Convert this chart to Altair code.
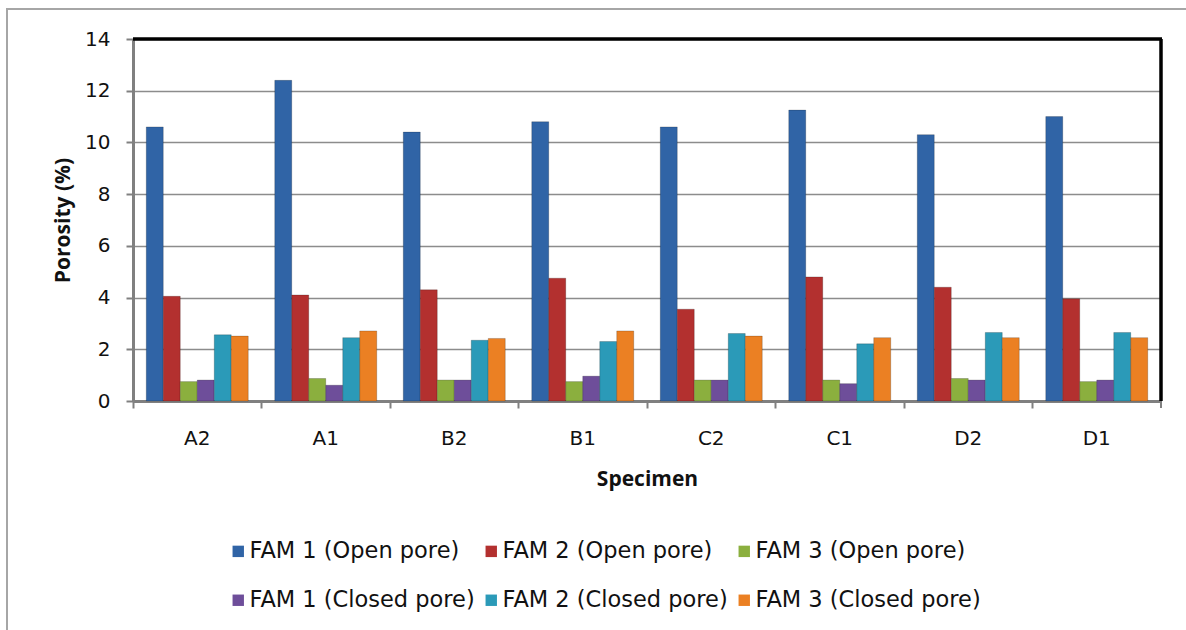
import altair as alt
import pandas as pd

specimens = ["A2", "A1", "B2", "B1", "C2", "C1", "D2", "D1"]
series_names = [
    "FAM 1 (Open pore)", "FAM 2 (Open pore)", "FAM 3 (Open pore)",
    "FAM 1 (Closed pore)", "FAM 2 (Closed pore)", "FAM 3 (Closed pore)",
]
fam1_open = [10.6, 12.4, 10.4, 10.8, 10.6, 11.25, 10.3, 11.0]
fam2_open = [4.05, 4.1, 4.3, 4.75, 3.55, 4.8, 4.4, 3.95]
fam3_open = [0.75, 0.87, 0.81, 0.75, 0.81, 0.81, 0.87, 0.75]
fam1_closed = [0.81, 0.61, 0.81, 0.96, 0.81, 0.67, 0.81, 0.81]
fam2_closed = [2.56, 2.45, 2.35, 2.30, 2.61, 2.21, 2.65, 2.65]
fam3_closed = [2.51, 2.71, 2.42, 2.71, 2.51, 2.45, 2.45, 2.45]
series_values = [fam1_open, fam2_open, fam3_open, fam1_closed, fam2_closed, fam3_closed]
colors = ["#3064A6", "#B3302F", "#8BAF3E", "#6E4E9A", "#2B9AB8", "#EB8023"]
y_ticks = [0, 2, 4, 6, 8, 10, 12, 14]

rows = []
for name, vals in zip(series_names, series_values):
    for s, v in zip(specimens, vals):
        rows.append({"Specimen": s, "Series": name, "Porosity": v})
df = pd.DataFrame(rows)
one = pd.DataFrame({"k": [0]})

W, H = 1028, 362
LEFT, TOP = 133, 39
LABEL_FONT = "DejaVu Sans"
TITLE_FONT = "Open Sans"

bars = alt.Chart(df).mark_bar(stroke="#000000", strokeOpacity=0.25, strokeWidth=0.8).encode(
    x=alt.X(
        "Specimen:N", sort=specimens,
        scale=alt.Scale(paddingInner=0, paddingOuter=0),
        axis=alt.Axis(
            title="Specimen", bandPosition=0, labelAngle=0,
            labelFont=LABEL_FONT, labelFontSize=20, labelColor="#111111", labelPadding=20,
            titleFont=TITLE_FONT, titleFontSize=21, titleFontWeight="bold", titleColor="#111111",
            titlePadding=20,
            domainColor="#808080", domainWidth=3, tickColor="#808080", tickWidth=2, tickSize=7,
        ),
    ),
    xOffset=alt.XOffset("Series:N", sort=series_names,
                        scale=alt.Scale(paddingInner=0, paddingOuter=0.78)),
    y=alt.Y(
        "Porosity:Q", scale=alt.Scale(domain=[0, 14], nice=False),
        axis=alt.Axis(
            title="Porosity (%)", values=y_ticks, grid=True,
            gridColor="#8c8c8c", gridWidth=1.6,
            labelFont=LABEL_FONT, labelFontSize=20, labelColor="#111111", labelPadding=16,
            titleFont=TITLE_FONT, titleFontSize=21, titleFontWeight="bold", titleColor="#111111",
            titlePadding=11,
            domainColor="#808080", domainWidth=3, tickColor="#808080", tickWidth=2, tickSize=7,
        ),
    ),
    color=alt.Color(
        "Series:N", sort=series_names,
        scale=alt.Scale(domain=series_names, range=colors),
        legend=alt.Legend(
            title=None, orient="none", legendX=94, legendY=501, columns=3,
            direction="horizontal",
            symbolType="square", symbolSize=130, symbolStrokeWidth=0,
            labelFont=LABEL_FONT, labelFontSize=22.5, labelColor="#111111", labelLimit=400,
            columnPadding=5, rowPadding=26, labelOffset=0,
        ),
    ),
)

frame = alt.Chart(one).mark_rect(fill="transparent", stroke="#a6a6a6", strokeWidth=2).encode(
    x=alt.value(7 - LEFT), x2=alt.value(1186 - LEFT + 20),
    y=alt.value(9 - TOP), y2=alt.value(630 - TOP + 20),
)
top_border = alt.Chart(one).mark_rule(color="black", strokeWidth=3.5).encode(
    x=alt.value(0), x2=alt.value(W + 1), y=alt.value(0)
)
right_border = alt.Chart(one).mark_rule(color="black", strokeWidth=3.5).encode(
    x=alt.value(W), y=alt.value(0), y2=alt.value(H)
)
end_tick = alt.Chart(one).mark_rule(color="#808080", strokeWidth=2).encode(
    x=alt.value(W), y=alt.value(H), y2=alt.value(H + 7)
)

chart = alt.layer(frame, bars, top_border, right_border, end_tick).properties(
    width=W, height=H,
    autosize=alt.AutoSizeParams(type="none"),
    padding={"left": LEFT, "top": TOP, "right": 1186 - LEFT - W, "bottom": 630 - TOP - H},
    background="white",
).configure_view(stroke=None)

chart.save("out.html", embed_options={"renderer": "svg", "actions": False})
